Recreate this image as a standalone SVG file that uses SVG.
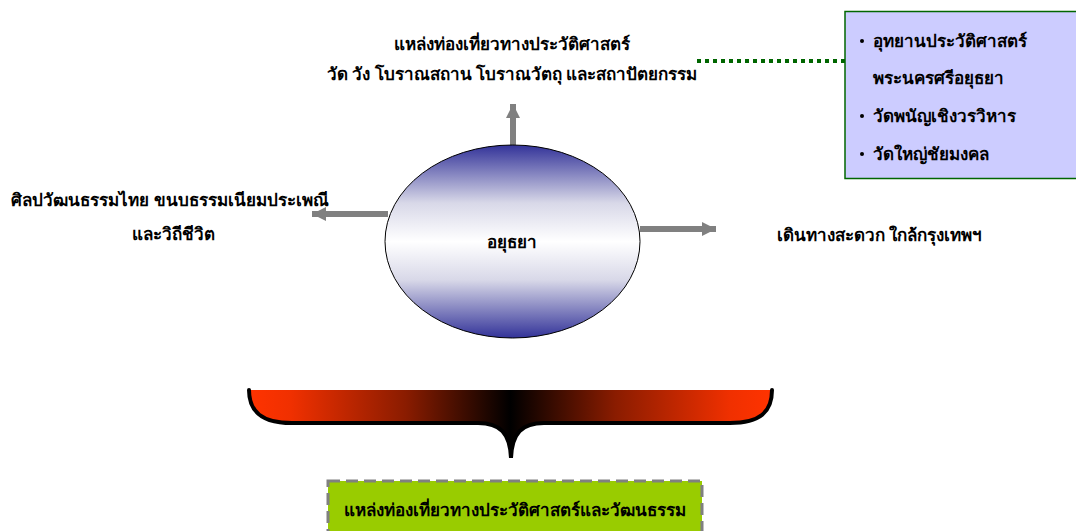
<svg xmlns="http://www.w3.org/2000/svg" width="1076" height="531" viewBox="0 0 1076 531">
<style>
.t{font-family:"Liberation Serif","Noto Sans",serif;font-weight:bold;font-size:17px;fill:#000;}
.arr{stroke:#808080;stroke-width:6;fill:none;}
</style>
<defs>
<linearGradient id="eg" x1="0" y1="0" x2="0" y2="1">
<stop offset="0" stop-color="#333399"/>
<stop offset="0.3" stop-color="#d8d8e8"/>
<stop offset="0.5" stop-color="#ffffff"/>
<stop offset="0.7" stop-color="#d8d8e8"/>
<stop offset="1" stop-color="#333399"/>
</linearGradient>
<linearGradient id="bg" x1="0" y1="0" x2="1" y2="0">
<stop offset="0" stop-color="#ff3300"/>
<stop offset="0.08" stop-color="#f03000"/>
<stop offset="0.3" stop-color="#8a1c00"/>
<stop offset="0.5" stop-color="#000000"/>
<stop offset="0.7" stop-color="#8a1c00"/>
<stop offset="0.92" stop-color="#f03000"/>
<stop offset="1" stop-color="#ff3300"/>
</linearGradient>
<marker id="ah" viewBox="0 0 10 10" refX="10" refY="5" markerWidth="2.4" markerHeight="2.4" orient="auto" markerUnits="strokeWidth">
<path d="M0,0 L10,5 L0,10 Z" fill="#808080"/>
</marker>
</defs>
<g id="connectors">
<line class="arr" x1="513" y1="145" x2="513" y2="104" marker-end="url(#ah)"/>
<line class="arr" x1="388" y1="214" x2="312" y2="214" marker-end="url(#ah)"/>
<line class="arr" x1="640" y1="229" x2="716" y2="229" marker-end="url(#ah)"/>
<line x1="697" y1="61" x2="845" y2="61" stroke="#006600" stroke-width="4" stroke-dasharray="4 4"/>
</g>
<g id="ayutthaya">
<ellipse cx="512.5" cy="241.5" rx="127.5" ry="96.5" fill="url(#eg)" stroke="#000" stroke-width="1"/>
<text class="t" x="512" y="248" text-anchor="middle">อยุธยา</text>
</g>
<g id="history">
<text class="t" x="512" y="50" text-anchor="middle">แหล่งท่องเที่ยวทางประวัติศาสตร์</text>
<text class="t" x="512" y="80" text-anchor="middle">วัด วัง โบราณสถาน โบราณวัตถุ และสถาปัตยกรรม</text>
</g>
<g id="culture">
<text class="t" x="170" y="206" text-anchor="middle">ศิลปวัฒนธรรมไทย ขนบธรรมเนียมประเพณี</text>
<text class="t" x="173" y="240" text-anchor="middle">และวิถีชีวิต</text>
</g>
<g id="travel">
<text class="t" x="777" y="241">เดินทางสะดวก ใกล้กรุงเทพฯ</text>
</g>
<g id="sites">
<rect x="845" y="11.5" width="240" height="167" fill="#ccccff" stroke="#006600" stroke-width="1.5"/>
<circle cx="862" cy="41" r="2" fill="#000"/>
<circle cx="862" cy="116" r="2" fill="#000"/>
<circle cx="862" cy="154" r="2" fill="#000"/>
<text class="t" x="873" y="47">อุทยานประวัติศาสตร์</text>
<text class="t" x="873" y="84">พระนครศรีอยุธยา</text>
<text class="t" x="873" y="122">วัดพนัญเชิงวรวิหาร</text>
<text class="t" x="873" y="160">วัดใหญ่ชัยมงคล</text>
</g>
<g id="brace">
<path d="M249,390 C249,412 262,423 292,423 L478,423 C500,423 510,433 511,458 C512,433 522,423 544,423 L730,423 C760,423 772,412 772,390 Z" fill="url(#bg)" stroke="none"/>
<path d="M249,390 C249,412 262,423 292,423 L478,423 C500,423 510,433 511,458 C512,433 522,423 544,423 L730,423 C760,423 772,412 772,390" fill="none" stroke="#000" stroke-width="4" stroke-linecap="round"/>
</g>
<g id="summary">
<rect x="328" y="481" width="374" height="52" fill="#99cc00" stroke="#808080" stroke-width="3" stroke-dasharray="12 6"/>
<text class="t" x="515" y="516" text-anchor="middle">แหล่งท่องเที่ยวทางประวัติศาสตร์และวัฒนธรรม</text>
</g>
</svg>
